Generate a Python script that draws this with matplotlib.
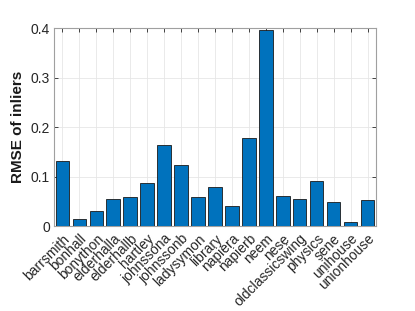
import matplotlib
matplotlib.use('Agg')
import matplotlib.pyplot as plt
import numpy as np

plt.rcParams['font.family'] = ['Liberation Sans', 'DejaVu Sans']

## data
scenes = ['barrsmith', 'bonhall', 'bonython', 'elderhalla', 'elderhallb', 'hartley',
          'johnssona', 'johnssonb', 'ladysymon', 'library', 'napiera', 'napierb',
          'neem', 'nese', 'oldclassicswing', 'physics', 'sene', 'unihouse', 'unionhouse']
rmse = [0.131, 0.014, 0.030, 0.054, 0.058, 0.087, 0.165, 0.124, 0.058, 0.080,
        0.040, 0.178, 0.397, 0.060, 0.054, 0.0915, 0.0485, 0.0087, 0.0525]
yticks = [0, 0.1, 0.2, 0.3, 0.4]
ytick_labels = ['0', '0.1', '0.2', '0.3', '0.4']

fig = plt.figure(figsize=(4.15, 3.11), dpi=100)
ax = fig.add_axes([0.130, 0.273, 0.776, 0.636])

x = np.arange(1, len(scenes) + 1)
ax.bar(x, rmse, width=0.8, color='#0072BD', edgecolor='#1a1a1a', linewidth=0.6, zorder=3)

ax.set_xlim(0.5, len(scenes) + 0.5)
ax.set_ylim(0, 0.4)
ax.set_yticks(yticks)
ax.set_yticklabels(ytick_labels)
ax.set_xticks(x)
ax.set_xticklabels(scenes, rotation=45, ha='right', rotation_mode='anchor')

ax.grid(True, color='#e6e6e6', linewidth=0.6, zorder=0)
ax.tick_params(direction='in', top=True, right=True, length=3, width=0.6,
               colors='#262626', labelsize=10, pad=3)
ax.tick_params(axis='x', pad=4)
for s in ax.spines.values():
    s.set_color('#a0a0a0')
    s.set_linewidth(0.8)

ax.set_ylabel('RMSE of inliers', fontsize=11, fontweight='bold', color='#1a1a1a')

fig.savefig('out.png', dpi=100)
